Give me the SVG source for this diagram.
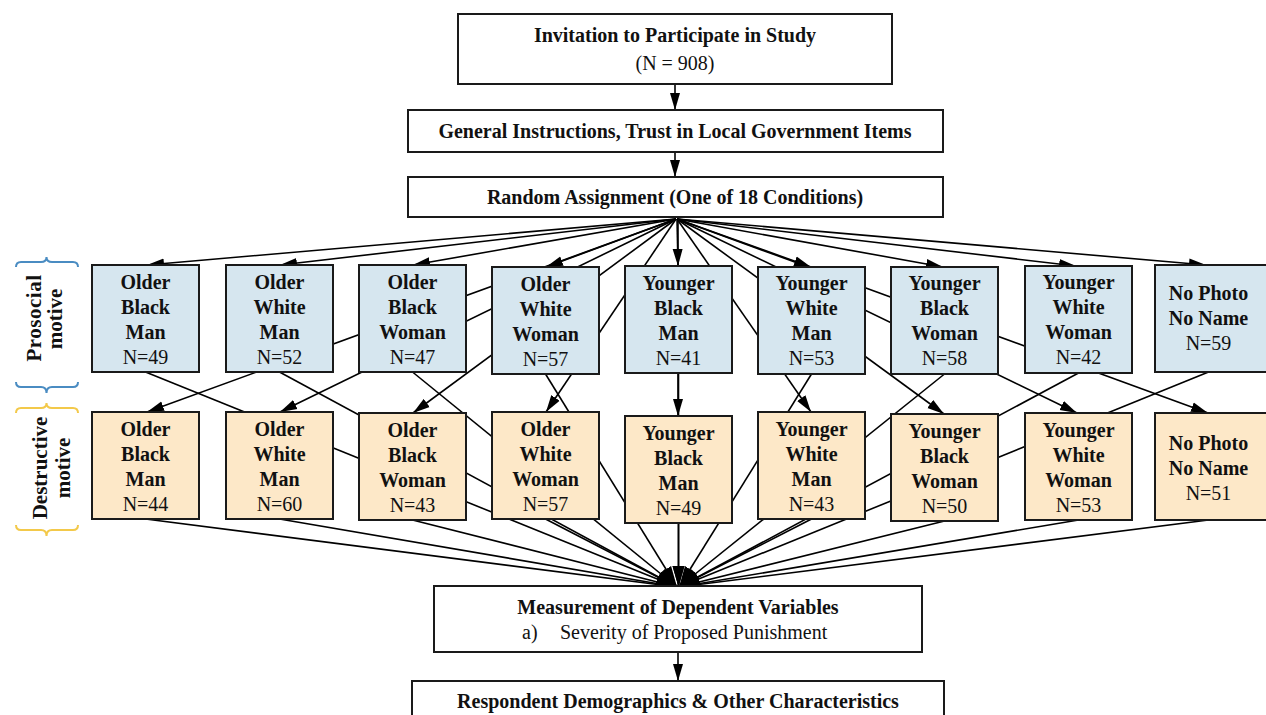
<svg xmlns="http://www.w3.org/2000/svg" width="1266" height="715" viewBox="0 0 1266 715">
<defs>
<style>
.box{fill:#ffffff;stroke:#1a1a1a;stroke-width:2}
.pro{fill:#d6e6ef;stroke:#1a1a1a;stroke-width:2}
.des{fill:#fde8c8;stroke:#1a1a1a;stroke-width:2}
.b{font-family:"Liberation Serif","Times New Roman",serif;font-weight:bold;font-size:20px;fill:#111;text-anchor:middle}
.r{font-family:"Liberation Serif","Times New Roman",serif;font-size:20px;fill:#111;text-anchor:middle}
.e{stroke:#000;stroke-width:1.6;fill:none;marker-end:url(#ah)}
.m{stroke:#000;stroke-width:1.6;fill:none;marker-end:url(#ah2)}
.brB{stroke:#4a8cc2;stroke-width:2;fill:none}
.brY{stroke:#f3c94a;stroke-width:2;fill:none}
</style>
<marker id="ah" markerUnits="userSpaceOnUse" markerWidth="18" markerHeight="11" refX="17" refY="5.5" orient="auto">
<path d="M0,0.5 L17,5.5 L0,10.5 z" fill="#000"/>
</marker>
<marker id="ah2" markerUnits="userSpaceOnUse" markerWidth="22" markerHeight="13" refX="21" refY="6.5" orient="auto">
<path d="M0,0.5 L21,6.5 L0,12.5 z" fill="#000"/>
</marker>
</defs>

<g id="connectors">
<line class="e" x1="675" y1="84" x2="675" y2="110"/>
<line class="e" x1="675" y1="152" x2="675" y2="177"/>
<!-- Random to prosocial -->
<line class="e" x1="676" y1="219" x2="147" y2="265"/>
<line class="e" x1="676" y1="219" x2="280" y2="265"/>
<line class="e" x1="676" y1="219" x2="413" y2="265"/>
<line class="e" x1="676" y1="219" x2="546" y2="267"/>
<line class="e" x1="677" y1="219" x2="678" y2="266"/>
<line class="e" x1="677" y1="219" x2="811" y2="267"/>
<line class="e" x1="677" y1="219" x2="943" y2="267"/>
<line class="e" x1="677" y1="219" x2="1076" y2="266"/>
<line class="e" x1="677" y1="219" x2="1206" y2="265"/>
<!-- Random to destructive -->
<line class="e" x1="676" y1="219" x2="147" y2="412"/>
<line class="e" x1="676" y1="219" x2="280" y2="412"/>
<line class="e" x1="676" y1="219" x2="413" y2="413"/>
<line class="e" x1="676" y1="219" x2="546" y2="412"/>
<line class="e" x1="678" y1="219" x2="678" y2="416"/>
<line class="e" x1="677" y1="219" x2="811" y2="412"/>
<line class="e" x1="677" y1="219" x2="944" y2="414"/>
<line class="e" x1="677" y1="219" x2="1077" y2="413"/>
<line class="e" x1="677" y1="219" x2="1208" y2="413"/>
<!-- prosocial to measurement -->
<line class="m" x1="145.5" y1="372" x2="677" y2="587"/>
<line class="m" x1="279.5" y1="372" x2="677" y2="587"/>
<line class="m" x1="412.5" y1="372" x2="677" y2="587"/>
<line class="m" x1="545.5" y1="374" x2="677" y2="587"/>
<line class="m" x1="678.5" y1="373" x2="678.5" y2="587"/>
<line class="m" x1="811.5" y1="374" x2="679" y2="587"/>
<line class="m" x1="944.5" y1="374" x2="679" y2="587"/>
<line class="m" x1="1078.5" y1="373" x2="679" y2="587"/>
<line class="m" x1="1208.5" y1="372" x2="679" y2="587"/>
<!-- destructive to measurement -->
<line class="m" x1="145.5" y1="519" x2="677" y2="587"/>
<line class="m" x1="279.5" y1="519" x2="677" y2="587"/>
<line class="m" x1="412.5" y1="520" x2="677" y2="587"/>
<line class="m" x1="545.5" y1="519" x2="677" y2="587"/>
<line class="m" x1="678.5" y1="523" x2="678.5" y2="587"/>
<line class="m" x1="811.5" y1="519" x2="679" y2="587"/>
<line class="m" x1="944.5" y1="521" x2="679" y2="587"/>
<line class="m" x1="1078.5" y1="520" x2="679" y2="587"/>
<line class="m" x1="1208.5" y1="520" x2="679" y2="587"/>
<line class="e" x1="678" y1="652" x2="678" y2="681"/>
</g>

<g id="invitation">
<rect class="box" x="458" y="14" width="434" height="70"/>
<text class="b" x="675" y="42">Invitation to Participate in Study</text>
<text class="r" x="675" y="70">(N = 908)</text>
</g>
<g id="instructions">
<rect class="box" x="408" y="110" width="535" height="42"/>
<text class="b" x="675" y="138">General Instructions, Trust in Local Government Items</text>
</g>
<g id="random">
<rect class="box" x="408" y="177" width="535" height="40"/>
<text class="b" x="675" y="204">Random Assignment (One of 18 Conditions)</text>
</g>

<g id="labels">
<path class="brB" d="M16,267 Q16,262 21,262 L41,262 Q46.5,262 46.5,257 Q46.5,262 52,262 L73,262 Q78,262 78,267"/>
<path class="brB" d="M16,382 Q16,387 21,387 L41,387 Q46.5,387 46.5,393 Q46.5,387 52,387 L73,387 Q78,387 78,382"/>
<path class="brY" d="M16,413 Q16,408 21,408 L41,408 Q46.5,408 46.5,403 Q46.5,408 52,408 L73,408 Q78,408 78,413"/>
<path class="brY" d="M16,525 Q16,530 21,530 L41,530 Q46.5,530 46.5,536 Q46.5,530 52,530 L73,530 Q78,530 78,525"/>
<text class="b" transform="translate(41,318) rotate(-90)" style="font-size:21px;letter-spacing:0.5px">Prosocial</text>
<text class="b" transform="translate(62,319) rotate(-90)" style="font-size:21px">motive</text>
<text class="b" transform="translate(47,468) rotate(-90)" style="font-size:21px">Destructive</text>
<text class="b" transform="translate(70,468) rotate(-90)" style="font-size:21px">motive</text>
</g>

<g id="p1"><rect class="pro" x="92" y="265" width="107" height="107"/>
<text class="b" x="145.5" y="289">Older</text><text class="b" x="145.5" y="314">Black</text><text class="b" x="145.5" y="339">Man</text><text class="r" x="145.5" y="364">N=49</text></g>
<g id="p2"><rect class="pro" x="226" y="265" width="107" height="107"/>
<text class="b" x="279.5" y="289">Older</text><text class="b" x="279.5" y="314">White</text><text class="b" x="279.5" y="339">Man</text><text class="r" x="279.5" y="364">N=52</text></g>
<g id="p3"><rect class="pro" x="359" y="265" width="107" height="107"/>
<text class="b" x="412.5" y="289">Older</text><text class="b" x="412.5" y="314">Black</text><text class="b" x="412.5" y="339">Woman</text><text class="r" x="412.5" y="364">N=47</text></g>
<g id="p4"><rect class="pro" x="492" y="267" width="107" height="107"/>
<text class="b" x="545.5" y="291">Older</text><text class="b" x="545.5" y="316">White</text><text class="b" x="545.5" y="341">Woman</text><text class="r" x="545.5" y="366">N=57</text></g>
<g id="p5"><rect class="pro" x="625" y="266" width="107" height="107"/>
<text class="b" x="678.5" y="290">Younger</text><text class="b" x="678.5" y="315">Black</text><text class="b" x="678.5" y="340">Man</text><text class="r" x="678.5" y="365">N=41</text></g>
<g id="p6"><rect class="pro" x="758" y="267" width="107" height="107"/>
<text class="b" x="811.5" y="290">Younger</text><text class="b" x="811.5" y="315">White</text><text class="b" x="811.5" y="340">Man</text><text class="r" x="811.5" y="365">N=53</text></g>
<g id="p7"><rect class="pro" x="891" y="267" width="107" height="107"/>
<text class="b" x="944.5" y="290">Younger</text><text class="b" x="944.5" y="315">Black</text><text class="b" x="944.5" y="340">Woman</text><text class="r" x="944.5" y="365">N=58</text></g>
<g id="p8"><rect class="pro" x="1025" y="266" width="107" height="107"/>
<text class="b" x="1078.5" y="289">Younger</text><text class="b" x="1078.5" y="314">White</text><text class="b" x="1078.5" y="339">Woman</text><text class="r" x="1078.5" y="364">N=42</text></g>
<g id="p9"><rect class="pro" x="1155" y="265" width="114" height="107"/>
<text class="b" x="1208.5" y="300">No Photo</text><text class="b" x="1208.5" y="325">No Name</text><text class="r" x="1208.5" y="350">N=59</text></g>

<g id="d1"><rect class="des" x="92" y="412" width="107" height="107"/>
<text class="b" x="145.5" y="436">Older</text><text class="b" x="145.5" y="461">Black</text><text class="b" x="145.5" y="486">Man</text><text class="r" x="145.5" y="511">N=44</text></g>
<g id="d2"><rect class="des" x="226" y="412" width="107" height="107"/>
<text class="b" x="279.5" y="436">Older</text><text class="b" x="279.5" y="461">White</text><text class="b" x="279.5" y="486">Man</text><text class="r" x="279.5" y="511">N=60</text></g>
<g id="d3"><rect class="des" x="359" y="413" width="107" height="107"/>
<text class="b" x="412.5" y="437">Older</text><text class="b" x="412.5" y="462">Black</text><text class="b" x="412.5" y="487">Woman</text><text class="r" x="412.5" y="512">N=43</text></g>
<g id="d4"><rect class="des" x="492" y="412" width="107" height="107"/>
<text class="b" x="545.5" y="436">Older</text><text class="b" x="545.5" y="461">White</text><text class="b" x="545.5" y="486">Woman</text><text class="r" x="545.5" y="511">N=57</text></g>
<g id="d5"><rect class="des" x="625" y="416" width="107" height="107"/>
<text class="b" x="678.5" y="440">Younger</text><text class="b" x="678.5" y="465">Black</text><text class="b" x="678.5" y="490">Man</text><text class="r" x="678.5" y="515">N=49</text></g>
<g id="d6"><rect class="des" x="758" y="412" width="107" height="107"/>
<text class="b" x="811.5" y="436">Younger</text><text class="b" x="811.5" y="461">White</text><text class="b" x="811.5" y="486">Man</text><text class="r" x="811.5" y="511">N=43</text></g>
<g id="d7"><rect class="des" x="891" y="414" width="107" height="107"/>
<text class="b" x="944.5" y="438">Younger</text><text class="b" x="944.5" y="463">Black</text><text class="b" x="944.5" y="488">Woman</text><text class="r" x="944.5" y="513">N=50</text></g>
<g id="d8"><rect class="des" x="1025" y="413" width="107" height="107"/>
<text class="b" x="1078.5" y="437">Younger</text><text class="b" x="1078.5" y="462">White</text><text class="b" x="1078.5" y="487">Woman</text><text class="r" x="1078.5" y="512">N=53</text></g>
<g id="d9"><rect class="des" x="1155" y="413" width="114" height="107"/>
<text class="b" x="1208.5" y="450">No Photo</text><text class="b" x="1208.5" y="475">No Name</text><text class="r" x="1208.5" y="500">N=51</text></g>

<g id="measurement">
<rect class="box" x="434" y="586" width="488" height="66"/>
<text class="b" x="678" y="614">Measurement of Dependent Variables</text>
<text class="r" style="text-anchor:start" x="522" y="639">a)</text>
<text class="r" style="text-anchor:start" x="560" y="639">Severity of Proposed Punishment</text>
</g>
<g id="demographics">
<rect class="box" x="412" y="681" width="532" height="40"/>
<text class="b" x="678" y="708">Respondent Demographics &amp; Other Characteristics</text>
</g>
</svg>
